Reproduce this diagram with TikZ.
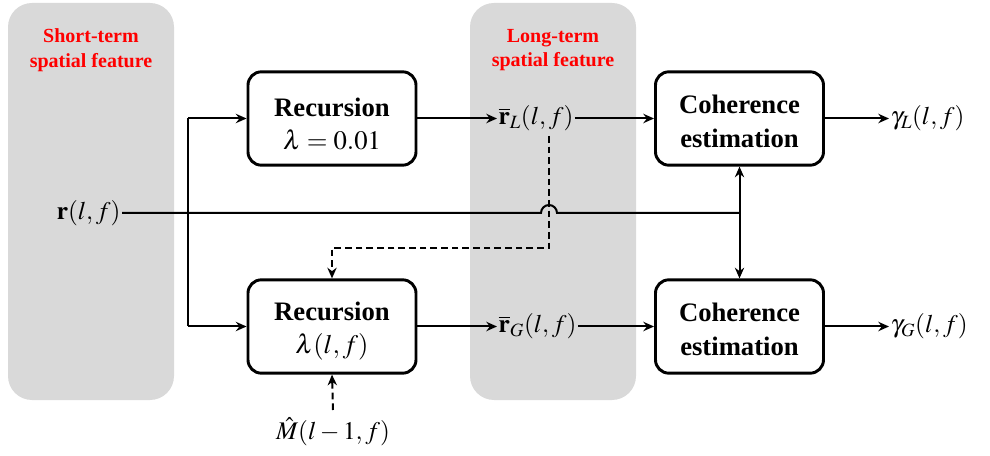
\documentclass[tikz,border=0pt]{standalone}
\usepackage{mathptmx}
\usepackage[no-math]{fontspec}
\setmainfont{Liberation Serif}
\usetikzlibrary{arrows.meta,positioning,calc}
\begin{document}
\begin{tikzpicture}[x=0.75pt,y=-0.75pt,
  panel/.style={fill=black!15,draw=none,rounded corners=18pt},
  paneltitle/.style={text=red,font=\bfseries\fontsize{15}{18.5}\selectfont,align=center},
  block/.style={draw,line width=2.2pt,rounded corners=10pt,minimum width=126pt,minimum height=70pt},
  blocktext/.style={align=center,font=\fontsize{20}{25}\selectfont,inner sep=0pt},
  lbl/.style={font=\fontsize{19}{22}\selectfont,inner sep=1pt},
  tip/.style={-{Stealth[length=8pt,width=7pt]}},
  conn/.style={line width=1.5pt,tip},
  dconn/.style={line width=1.5pt,dash pattern=on 5pt off 3pt},
  plain/.style={line width=1.5pt}]
\useasboundingbox (0,0) rectangle (990,456);
% panels
\fill[panel] (8,3) rectangle (174,400);
\fill[panel] (470,3) rectangle (636,400);
\node[paneltitle] (st) at (91,50) {Short-term\\spatial feature};
\node[paneltitle] (lt) at (553,50) {Long-term\\spatial feature};
% blocks
\node[block] (rec1) at (332,118.5) {};
\node[block] (rec2) at (332,326.5) {};
\node[block] (coh1) at (739.5,118.5) {};
\node[block] (coh2) at (739.5,326.5) {};
\node[blocktext] (rec1t) at (332,124) {\textbf{Recursion}\\$\lambda=0.01$};
\node[blocktext] (rec2t) at (332,331) {\textbf{Recursion}\\$\lambda(l,f)$};
\node[blocktext] (coh1t) at (739.5,121.5) {\textbf{Coherence}\\\textbf{estimation}};
\node[blocktext] (coh2t) at (739.5,329.5) {\textbf{Coherence}\\\textbf{estimation}};
% labels
\node[lbl,anchor=east] (r) at (122,213) {$\mathbf{r}(l,f)$};
\node[lbl,anchor=west] (rL) at (497,118.5) {$\overline{\mathbf{r}}_L(l,f)$};
\node[lbl,anchor=west] (rG) at (497,326.5) {$\overline{\mathbf{r}}_G(l,f)$};
\node[lbl,anchor=west] (gL) at (889,118.5) {$\gamma_L(l,f)$};
\node[lbl,anchor=west] (gG) at (889,326.5) {$\gamma_G(l,f)$};
\node[lbl] (M) at (333,432) {$\hat{M}(l-1,f)$};
% coordinates
\coordinate (split) at (188,213);
\coordinate (jmp) at (549,213);
\coordinate (junc) at (739.5,213);
\coordinate (dtop) at (549,136);
\coordinate (dcorner) at (549,248);
\coordinate (mtop) at (333,410);
% input line with jump
\draw[plain] (r.east) -- ($(jmp)+(-8,0)$) arc[start angle=180,end angle=0,radius=6pt] -- (junc);
\draw[plain] (split |- rec1.west) -- (split |- rec2.west);
\draw[conn] (split |- rec1.west) -- (rec1.west);
\draw[conn] (split |- rec2.west) -- (rec2.west);
\draw[conn] (rec1.east) -- (rL.west);
\draw[conn] (rec2.east) -- (rG.west);
\draw[conn] (rL.east) -- (rL.east -| coh1.west);
\draw[conn] (rG.east) -- (rG.east -| coh2.west);
\draw[conn] (coh1.east) -- (gL.west);
\draw[conn] (coh2.east) -- (gG.west);
\draw[line width=1.5pt,{Stealth[length=8pt,width=7pt]}-{Stealth[length=8pt,width=7pt]}] (coh1.south) -- (coh2.north);
% dashed feedback
\draw[dconn,tip] (dtop) -- (dcorner) -| (rec2.north);
\draw[dconn,tip] (mtop) -- (rec2.south);
\end{tikzpicture}
\end{document}
